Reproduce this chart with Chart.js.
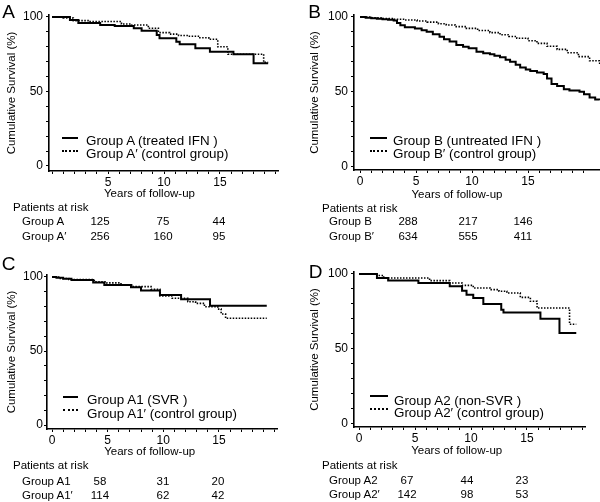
<!DOCTYPE html>
<html>
<head>
<meta charset="utf-8">
<script src="https://cdn.jsdelivr.net/npm/chart.js@4.4.0/dist/chart.umd.min.js"></script>
<style>
  body { margin: 0; background: #fff; }
  #wrap { position: relative; width: 600px; height: 502px; overflow: hidden;
          font-family: "Liberation Sans", Arial, sans-serif; color: #000; }
  canvas { position: absolute; }
  .t { position: absolute; white-space: nowrap; }
  .ln { position: absolute; height: 0; }
</style>
</head>
<body>
<div id="wrap"></div>
<script>
// ---- data (years, cumulative survival %) ----
const groupA_t = [0, 1.6, 2.35, 4.3, 5.6, 7.3, 8.0, 9.35, 9.6, 11.1, 11.4, 12.8, 14.1, 16.2, 18.0, 19.3];
const groupA_s = [100, 98, 96, 94.6, 94, 92.4, 90.8, 87.9, 85.7, 83.4, 81.7, 79, 76.7, 75, 68.9, 68.9];
const groupA2c_t = [0, 1.0, 1.9, 3.4, 6.2, 7.1, 8.6, 9.5, 10.5, 11.3, 12.2, 13.2, 14.0, 14.8, 15.7, 18.9, 19.3];
const groupA2c_s = [100, 99.3, 97.5, 96.9, 95.3, 94.6, 92.4, 89.5, 88.5, 87.5, 87, 86, 85, 80, 75, 69.5, 69.5];

const groupB_t = [0, 0.5, 1.0, 1.5, 2.0, 2.5, 3.0, 3.3, 3.6, 4.0, 4.9, 5.5, 5.95, 6.5, 7.1, 7.5, 8.0, 8.6, 9.2, 9.7,
  10.4, 11.0, 11.6, 12.0, 12.5, 13.0, 13.4, 13.9, 14.3, 14.8, 15.2, 15.8, 16.4, 16.7, 17.1, 17.6, 18.2, 18.7,
  19.6, 20.0, 20.5, 21.0, 21.4];
const groupB_s = [100, 99.5, 99.2, 98.8, 98.5, 98.2, 97.6, 96, 94.5, 93.1, 92.4, 91.2, 90.2, 88.5, 86.9, 85.2, 83.6,
  81.3, 80.2, 79.1, 76.9, 75.8, 75.1, 74.2, 73.1, 71.5, 70.2, 68.2, 66.4, 65, 64, 63, 62, 59, 55.3, 54, 51.8, 51,
  50.2, 48.5, 46.4, 45, 44.7];
const groupBc_t = [0, 1, 2, 3, 4, 5.1, 6, 7, 7.7, 8.5, 9.5, 10.5, 11.6, 12.5, 13.3, 14.0, 15, 15.8, 16.7, 17.6,
  18.5, 19.5, 20.5, 21.4];
const groupBc_s = [100, 99.5, 99, 98.5, 98, 97.3, 96.6, 95.5, 94.7, 93.6, 92.4, 91, 89.6, 88.2, 87, 85.8, 84.2,
  82.4, 80.5, 78.4, 76.2, 73.6, 70.8, 68];

const groupA1_t = [0, 0.4, 1.0, 1.75, 3.7, 4.7, 7.1, 8.0, 9.7, 11.6, 14.2, 19.3];
const groupA1_s = [100, 99.5, 98.8, 98, 96.2, 94.6, 93, 90.8, 87.8, 84.9, 80.6, 80.6];
const groupA1c_t = [0, 0.6, 1.5, 3.8, 4.9, 6.2, 7.3, 8.9, 9.7, 10.8, 12.2, 12.9, 13.7, 14.9, 15.2, 15.6, 19.3];
const groupA1c_s = [100, 99, 98.3, 96.8, 96, 94.6, 93.5, 91.7, 87.2, 85.6, 83.3, 82.2, 79.9, 78.3, 75, 72.1, 72.1];

const groupA2_t = [0, 1.6, 2.6, 5.3, 8.1, 9.2, 9.6, 10.2, 11.1, 12.7, 12.9, 16.2, 17.9, 19.4];
const groupA2_s = [100, 97.3, 95.6, 94, 91.8, 88.9, 86.2, 84, 80, 76.2, 74.4, 70.2, 60.7, 60.7];
const groupA2cc_t = [0, 1.6, 2.2, 6.3, 8.1, 9.2, 10.2, 11.7, 12.5, 13.2, 14.4, 15.3, 15.9, 18.8, 19.4];
const groupA2cc_s = [100, 99, 97.3, 95.6, 94, 92.4, 90.7, 89.6, 88.5, 87.3, 84.4, 81.8, 77.3, 66.5, 66.5];

// ---- patients at risk (at 5, 10, 15 years) ----
const riskA = [125, 75, 44], riskAc = [256, 160, 95];
const riskB = [288, 217, 146], riskBc = [634, 555, 411];
const riskA1 = [58, 31, 20], riskA1c = [114, 62, 42];
const riskA2 = [67, 44, 23], riskA2c = [142, 98, 53];

// ---- ticks ----
const xTickYears = [0, 1, 2, 3, 4, 5, 6, 7, 8, 9, 10, 11, 12, 13, 14, 15, 16, 17, 18, 19, 20];
const xLabelsA = [5, 10, 15];
const xLabelsOther = [0, 5, 10, 15];
const yTickPct = [0, 10, 20, 30, 40, 50, 60, 70, 80, 90, 100];
const yLabels = [0, 50, 100];

const FONT = '"Liberation Sans", Arial, sans-serif';
const wrap = document.getElementById('wrap');

function xy(t, s) { return t.map((v, i) => ({ x: v, y: s[i] })); }

function label(x, cy, text, size, center) {
  const lh = Math.round(size * 1.2);
  const base = (lh - 1.117 * size) / 2 + 0.905 * size;
  const capMid = base - 0.358 * size;
  const d = document.createElement('div');
  d.className = 't';
  d.textContent = text;
  d.style.fontSize = size + 'px';
  d.style.lineHeight = lh + 'px';
  d.style.left = x + 'px';
  d.style.top = (cy - capMid) + 'px';
  if (center) d.style.transform = 'translateX(-50%)';
  wrap.appendChild(d);
}

function sample(x1, x2, y, dotted) {
  const d = document.createElement('div');
  d.className = 'ln';
  d.style.left = x1 + 'px';
  d.style.width = (x2 - x1) + 'px';
  d.style.top = (y - 1) + 'px';
  d.style.borderTop = dotted ? '2px dotted #000' : '2px solid #000';
  wrap.appendChild(d);
}

const panels = [
  { letter: 'A', solid: [groupA_t, groupA_s], dotted: [groupA2c_t, groupA2c_s],
    names: ['Group A (treated IFN )', 'Group A\u2032 (control group)'],
    risk: [['Group A', riskA], ['Group A\u2032', riskAc]], xLabels: xLabelsA,
    box: { left: 0, top: 0, w: 300, h: 193, yw: 49, xh: 22, padTop: 15, padRight: 22 },
    x: [-0.27, 20.18], y: [-3.36, 101.3], ytp: 5, ypad: 3,
    letterPos: [8.5, 11.7], leg: { x1: 62, x2: 78, tx: 86, cy: [140.5, 154], ly: [138, 150.5] },
    xt: [149.5, 192.5], rk: { hx: 13, hy: 207, lx: 22, ry: [221, 236], nx: [100, 163, 219] } },
  { letter: 'B', solid: [groupB_t, groupB_s], dotted: [groupBc_t, groupBc_s],
    names: ['Group B (untreated IFN )', 'Group B\u2032 (control group)'],
    risk: [['Group B', riskB], ['Group B\u2032', riskBc]], xLabels: xLabelsOther,
    box: { left: 300, top: 0, w: 300, h: 192, yw: 54, xh: 22, padTop: 15, padRight: 0 },
    x: [-0.54, 21.43], y: [-2, 101.33], ytp: 8, ypad: 3,
    letterPos: [314.5, 11.5], leg: { x1: 370, x2: 387, tx: 393, cy: [140.5, 154], ly: [138, 150.5] },
    xt: [457, 194], rk: { hx: 322, hy: 208, lx: 329, ry: [221, 235.5], nx: [408, 468, 523] } },
  { letter: 'C', solid: [groupA1_t, groupA1_s], dotted: [groupA1c_t, groupA1c_s],
    names: ['Group A1 (SVR )', 'Group A1\u2032 (control group)'],
    risk: [['Group A1', riskA1], ['Group A1\u2032', riskA1c]], xLabels: xLabelsOther,
    box: { left: 0, top: 250, w: 300, h: 201, yw: 47, xh: 22, padTop: 25, padRight: 23 },
    x: [-0.45, 20.22], y: [-2.7, 101.35], ytp: 5, ypad: 1,
    letterPos: [8.5, 263], leg: { x1: 63, x2: 78, tx: 87, cy: [400, 414], ly: [396.7, 410] },
    xt: [149.7, 451], rk: { hx: 13, hy: 465, lx: 22, ry: [480.5, 495], nx: [100, 163, 218] } },
  { letter: 'D', solid: [groupA2_t, groupA2_s], dotted: [groupA2cc_t, groupA2cc_s],
    names: ['Group A2 (non-SVR )', 'Group A2\u2032 (control group)'],
    risk: [['Group A2', riskA2], ['Group A2\u2032', riskA2c]], xLabels: xLabelsOther,
    box: { left: 300, top: 250, w: 300, h: 199, yw: 54, xh: 22, padTop: 22, padRight: 15 },
    x: [-0.45, 20.18], y: [-2, 101.33], ytp: 8, ypad: 3,
    letterPos: [315.5, 271.5], leg: { x1: 370, x2: 388, tx: 394, cy: [400.5, 413], ly: [395.7, 409] },
    xt: [456.7, 449.5], rk: { hx: 322, hy: 465, lx: 329, ry: [480, 494], nx: [407, 467, 522] } }
];

function makePanel(p) {
  const b = p.box;
  const cv = document.createElement('canvas');
  cv.width = b.w; cv.height = b.h;
  cv.style.left = b.left + 'px'; cv.style.top = b.top + 'px';
  wrap.appendChild(cv);

  new Chart(cv.getContext('2d'), {
    type: 'line',
    data: {
      datasets: [
        { data: xy(p.solid[0], p.solid[1]), borderColor: '#000', borderWidth: 2,
          stepped: true, pointRadius: 0, fill: false },
        { data: xy(p.dotted[0], p.dotted[1]), borderColor: '#000', borderWidth: 1.6,
          borderDash: [1.5, 1.5], stepped: true, pointRadius: 0, fill: false }
      ]
    },
    options: {
      responsive: false,
      animation: false,
      devicePixelRatio: 1,
      layout: { padding: { left: 0, top: b.padTop, right: b.padRight, bottom: 0 } },
      plugins: { legend: { display: false }, tooltip: { enabled: false } },
      scales: {
        x: {
          type: 'linear', min: p.x[0], max: p.x[1],
          afterFit: s => { s.height = b.xh; },
          afterBuildTicks: s => { s.ticks = xTickYears.map(v => ({ value: v })); },
          ticks: { autoSkip: false, maxRotation: 0, padding: 1, color: '#000',
                   font: { family: FONT, size: 12 },
                   callback: v => p.xLabels.includes(v) ? String(v) : '' },
          grid: { drawOnChartArea: false, tickLength: 3, tickColor: '#000', tickWidth: 1 },
          border: { color: '#000', width: 1.6 }
        },
        y: {
          type: 'linear', min: p.y[0], max: p.y[1],
          afterFit: s => { s.width = b.yw; },
          afterBuildTicks: s => { s.ticks = yTickPct.map(v => ({ value: v })); },
          ticks: { autoSkip: false, padding: p.ypad, color: '#000',
                   font: { family: FONT, size: 12 },
                   callback: v => yLabels.includes(v) ? String(v) : '' },
          grid: { drawOnChartArea: false, tickLength: 3, tickColor: '#000', tickWidth: 1 },
          border: { color: '#000', width: 1.6 },
          title: { display: true, text: 'Cumulative Survival (%)', color: '#000',
                   font: { family: FONT, size: 11.5 }, padding: { top: p.ytp, bottom: 0 } }
        }
      }
    }
  });

  // panel letter
  label(p.letterPos[0], p.letterPos[1], p.letter, 19, true);
  // legend
  sample(p.leg.x1, p.leg.x2, p.leg.ly[0], false);
  sample(p.leg.x1, p.leg.x2, p.leg.ly[1], true);
  label(p.leg.tx, p.leg.cy[0], p.names[0], 13.4);
  label(p.leg.tx, p.leg.cy[1], p.names[1], 13.4);
  // x title
  label(p.xt[0], p.xt[1], 'Years of follow-up', 11.5, true);
  // patients at risk
  label(p.rk.hx, p.rk.hy, 'Patients at risk', 11.5);
  p.risk.forEach((row, r) => {
    label(p.rk.lx, p.rk.ry[r], row[0], 11.5);
    row[1].forEach((n, i) => label(p.rk.nx[i], p.rk.ry[r], String(n), 11.5, true));
  });
}

panels.forEach(makePanel);
</script>
</body>
</html>
